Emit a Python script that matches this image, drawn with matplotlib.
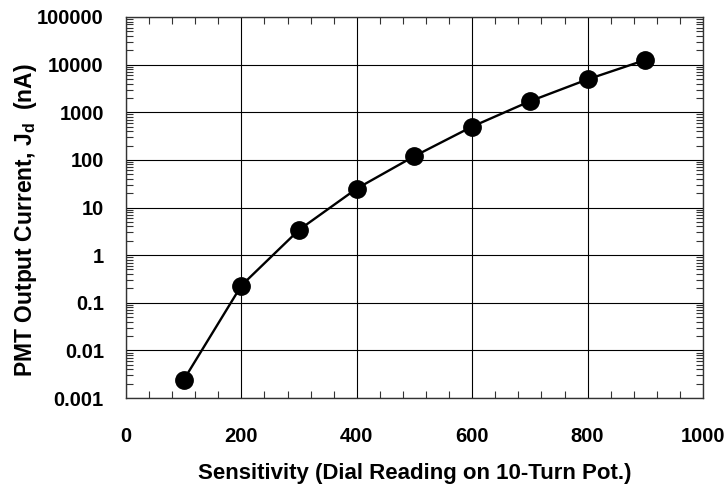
import matplotlib
matplotlib.use("Agg")
import matplotlib.pyplot as plt
from matplotlib.ticker import MultipleLocator, LogLocator, FixedLocator, NullFormatter

dial = [100, 200, 300, 400, 500, 600, 700, 800, 900]
current_nA = [0.0024, 0.23, 3.4, 25, 120, 500, 1700, 4900, 12500]
y_ticks = [0.001, 0.01, 0.1, 1, 10, 100, 1000, 10000, 100000]
y_tick_labels = ["0.001", "0.01", "0.1", "1", "10", "100", "1000", "10000", "100000"]
x_ticks = [0, 200, 400, 600, 800, 1000]

plt.rcParams['font.family'] = ['Liberation Sans', 'DejaVu Sans']
plt.rcParams['font.weight'] = 'bold'
plt.rcParams['mathtext.fontset'] = 'custom'
plt.rcParams['mathtext.bf'] = 'Liberation Sans:bold'
plt.rcParams['mathtext.rm'] = 'Liberation Sans:bold'

fig = plt.figure(figsize=(7.27, 4.92), dpi=100)
ax = fig.add_axes([0.1733, 0.191, 0.7937, 0.7745])

ax.plot(dial, current_nA, color='black', lw=1.7, marker='o', markersize=12.5, zorder=3)

ax.set_yscale('log')
ax.set_xlim(0, 1000)
ax.set_ylim(0.001, 100000)
ax.xaxis.set_major_locator(FixedLocator(x_ticks))
ax.xaxis.set_minor_locator(MultipleLocator(40))
ax.yaxis.set_major_locator(FixedLocator(y_ticks))
ax.set_yticklabels(y_tick_labels)
ax.yaxis.set_minor_locator(LogLocator(base=10, subs=range(2, 10), numticks=20))
ax.yaxis.set_minor_formatter(NullFormatter())

ax.grid(True, which='major', color='black', lw=0.8)
ax.set_axisbelow(True)
ax.tick_params(which='both', direction='in', top=True, right=True, colors='#333333',
               labelcolor='black', labelsize=14.5)
ax.tick_params(axis='x', which='major', length=0, pad=21)
ax.tick_params(axis='y', which='major', length=0, pad=16)
ax.tick_params(which='minor', length=5, width=0.8)
for s in ax.spines.values():
    s.set_color('#333333')
    s.set_linewidth(1.0)

for lab in ax.get_xticklabels() + ax.get_yticklabels():
    lab.set_fontweight('bold')

ax.set_xlabel("Sensitivity (Dial Reading on 10-Turn Pot.)", fontsize=16, fontweight='bold', labelpad=12)
ax.set_ylabel(r"PMT Output Current, J$_\mathbf{d}$  (nA)", fontsize=16.5, fontweight='bold')
ax.yaxis.set_label_coords(-0.151, 0.467)

fig.savefig("out.png", dpi=100)
